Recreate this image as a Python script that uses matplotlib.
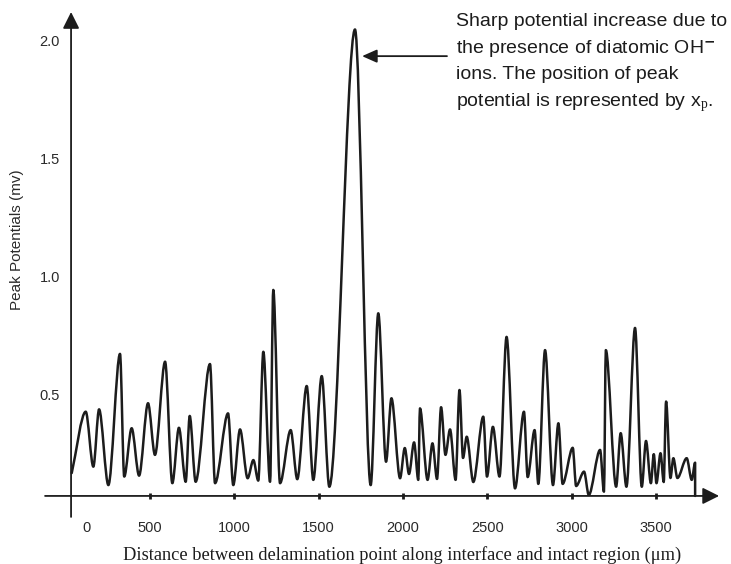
import numpy as np
import matplotlib
matplotlib.use("Agg")
import matplotlib.pyplot as plt
from matplotlib.path import Path
from matplotlib.patches import PathPatch

plt.rcParams['font.family'] = ['Liberation Sans', 'DejaVu Sans']
plt.rcParams['mathtext.fontset'] = 'custom'
plt.rcParams['mathtext.rm'] = 'Liberation Serif'
plt.rcParams['mathtext.it'] = 'Liberation Serif:italic'

# peaks and troughs of the potential trace (distance in um, potential in mV)
dist_um = [37, 120, 165, 199, 254, 323, 348, 392, 436, 489, 530, 590, 633, 672,
           712, 736, 771, 856, 886, 963, 994, 1034, 1079, 1113, 1142, 1172,
           1212, 1231, 1271, 1334, 1373, 1429, 1468, 1518, 1563, 1715, 1808,
           1853, 1899, 1931, 1982, 2010, 2035, 2065, 2090, 2100, 2145, 2174,
           2201, 2225, 2251, 2278, 2311, 2334, 2355, 2377, 2416, 2475, 2497,
           2532, 2571, 2613, 2663, 2716, 2738, 2779, 2801, 2841, 2888, 2920,
           2945, 3005, 3025, 3072, 3100, 3167, 3190, 3201, 3262, 3289, 3323,
           3374, 3414, 3439, 3468, 3485, 3501, 3525, 3544, 3558, 3584, 3601,
           3625, 3680, 3710, 3730]
potential_mv = [0.165, 0.425, 0.192, 0.435, 0.114, 0.670, 0.150, 0.355, 0.154,
                0.461, 0.242, 0.637, 0.122, 0.357, 0.128, 0.407, 0.128, 0.627,
                0.122, 0.418, 0.114, 0.350, 0.143, 0.220, 0.133, 0.679, 0.128,
                0.941, 0.122, 0.347, 0.139, 0.534, 0.136, 0.576, 0.107, 2.045,
                0.114, 0.842, 0.213, 0.482, 0.143, 0.271, 0.161, 0.295, 0.136,
                0.439, 0.136, 0.291, 0.140, 0.444, 0.242, 0.350, 0.136, 0.517,
                0.229, 0.319, 0.127, 0.404, 0.150, 0.361, 0.150, 0.742, 0.100,
                0.425, 0.148, 0.347, 0.119, 0.686, 0.114, 0.376, 0.119, 0.272,
                0.110, 0.171, 0.072, 0.263, 0.086, 0.686, 0.107, 0.334, 0.107,
                0.780, 0.107, 0.301, 0.122, 0.245, 0.122, 0.249, 0.127, 0.468,
                0.144, 0.228, 0.144, 0.228, 0.136, 0.209]

x_ticks = [500, 1000, 1500, 2000, 2500, 3000, 3500]
y_ticks = [0.5, 1.0, 1.5, 2.0]

axis_x0 = 33       # where the vertical axis crosses
axis_y0 = 0.068    # where the horizontal axis crosses
peak_x = dist_um[int(np.argmax(potential_mv))]

ink = '#1c1c1c'
soft = '#2a2a2a'

fig = plt.figure(figsize=(7.31, 5.64), dpi=100)
ax = fig.add_axes([40 / 731, 44 / 564, 685 / 731, 512 / 564])
ax.set_xlim(-151, 3907)
ax.set_ylim(-0.034, 2.136)

for side in ['top', 'right', 'left', 'bottom']:
    ax.spines[side].set_visible(False)
ax.spines['bottom'].set_position(('data', axis_y0))
ax.spines['left'].set_position(('data', axis_x0))

# smooth trace: cubic segments with flat tangents at each extremum
k = 0.32
verts = [(dist_um[0], potential_mv[0])]
codes = [Path.MOVETO]
for i in range(1, len(dist_um)):
    x0, y0 = dist_um[i - 1], potential_mv[i - 1]
    x1, y1 = dist_um[i], potential_mv[i]
    dx = x1 - x0
    if i == 1:
        c1 = (x0 + k * dx, y0 + k * (y1 - y0))
    else:
        c1 = (x0 + k * dx, y0)
    verts += [c1, (x1 - k * dx, y1), (x1, y1)]
    codes += [Path.CURVE4] * 3
verts.append((dist_um[-1], axis_y0))
codes.append(Path.LINETO)
ax.add_patch(PathPatch(Path(verts, codes), fill=False, edgecolor=ink,
                       lw=1.8, joinstyle='round', capstyle='round'))

# axes drawn as arrows crossing each other
arrow_kw = dict(arrowstyle='-|>,head_length=0.5,head_width=0.25',
                mutation_scale=20, lw=1.3, color=ink, shrinkA=0, shrinkB=0)
ax.annotate('', xy=(axis_x0, 2.119), xytext=(axis_x0, -0.021),
            arrowprops=arrow_kw, annotation_clip=False)
ax.annotate('', xy=(3872, axis_y0), xytext=(-121, axis_y0),
            arrowprops=arrow_kw, annotation_clip=False)

ax.set_xticks(x_ticks)
ax.set_xticklabels([str(t) for t in x_ticks])
ax.tick_params(axis='x', direction='inout', length=5, width=2, color=ink,
               pad=15.5, labelsize=10.5, labelcolor=soft)
ax.annotate('0', xy=(127, axis_y0), xytext=(0, -18), textcoords='offset points',
            ha='center', va='top', fontsize=10.5, color=soft)

ax.set_yticks(y_ticks)
ax.set_yticklabels([f'{t:.1f}' for t in y_ticks])
ax.tick_params(axis='y', length=0, pad=8, labelsize=10.5, labelcolor=soft)

fig.text(17 / 731, 1 - 240 / 564, 'Peak Potentials (mv)', rotation=90,
         ha='center', va='center', fontsize=11, color=soft)
fig.text(402 / 731, 1 - 555 / 564,
         'Distance between delamination point along interface and intact region (\u03bcm)',
         ha='center', va='center', fontsize=13.2, color=ink,
         family=['Liberation Serif', 'DejaVu Serif'])

# callout for the main peak
ax.annotate('', xy=(peak_x + 42, 1.932), xytext=(2260, 1.932),
            arrowprops=dict(arrowstyle='-|>,head_length=0.45,head_width=0.2',
                            mutation_scale=20, lw=1.3, color=ink,
                            shrinkA=0, shrinkB=0))
note_lines = ['Sharp potential increase due to',
              'the presence of diatomic OH$^{\\mathbf{-}}$',
              'ions. The position of peak',
              'potential is represented by x$_{\\mathrm{p}}$.']
for j, line in enumerate(note_lines):
    fig.text(456 / 731, 1 - (26 + 26.7 * j) / 564, line, ha='left',
             va='baseline', fontsize=14, color=ink)

fig.savefig('out.png', dpi=100)
